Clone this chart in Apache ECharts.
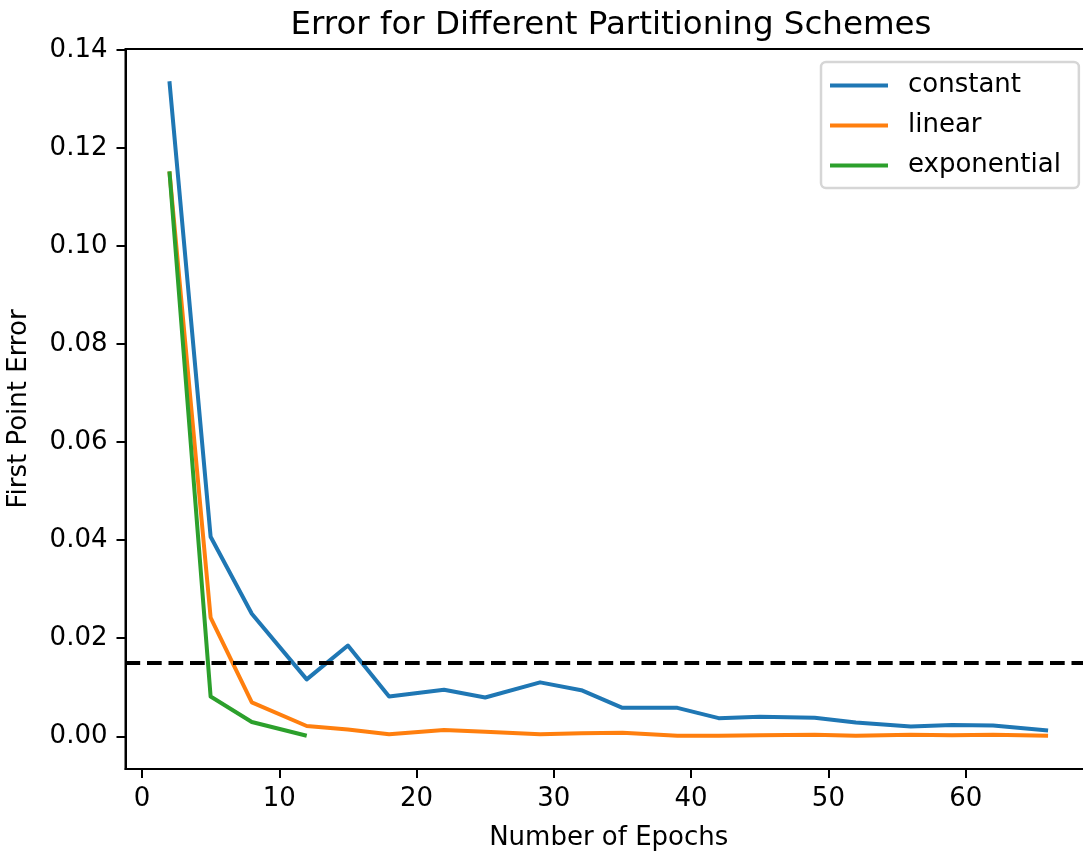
<!DOCTYPE html>
<html>
<head>
<meta charset="utf-8">
<title>Error for Different Partitioning Schemes</title>
<script src="https://cdn.jsdelivr.net/npm/echarts@6/dist/echarts.min.js"></script>
<style>
  html, body { margin: 0; padding: 0; background: #fff; overflow: hidden; }
  #chart { width: 1083px; height: 852px; }
</style>
</head>
<body>
<div id="chart"></div>
<script>
// Training epochs at which the first-point error was evaluated
const epochs = [2, 5, 8, 12, 15, 18, 22, 25, 29, 32, 35, 39, 42, 45, 49, 52, 56, 59, 62, 66];
const constantError = [0.1336, 0.0407, 0.0250, 0.0116, 0.0185, 0.0081, 0.0095, 0.0079, 0.0110, 0.0094,
                       0.0058, 0.0058, 0.0037, 0.0040, 0.0038, 0.0028, 0.0020, 0.0023, 0.0022, 0.0012];
const linearError = [0.1152, 0.0242, 0.0069, 0.0021, 0.0014, 0.0004, 0.0013, 0.0009, 0.0004, 0.0006,
                     0.0007, 0.0001, 0.0001, 0.0002, 0.0003, 0.0001, 0.0003, 0.0002, 0.0003, 0.0001];
const exponentialEpochs = [2, 5, 8, 12];
const exponentialError = [0.1152, 0.0081, 0.0029, 0.0001];
const threshold = 0.015;

const xTicks = [0, 10, 20, 30, 40, 50, 60];
const yTicks = [0, 0.02, 0.04, 0.06, 0.08, 0.10, 0.12, 0.14];
const seriesNames = ['constant', 'linear', 'exponential'];
const colors = ['#1f77b4', '#ff7f0e', '#2ca02c'];

const pairs = (xs, ys) => xs.map((x, i) => [x, ys[i]]);

const FONT = 'DejaVu Sans';
const chart = echarts.init(document.getElementById('chart'), null, { renderer: 'canvas' });

const lineSeries = (name, xs, ys, color) => ({
  name: name,
  type: 'line',
  data: pairs(xs, ys),
  showSymbol: false,
  symbol: 'none',
  color: color,
  lineStyle: { color: color, width: 4, cap: 'butt', join: 'round' },
  emphasis: { disabled: true },
  silent: true
});

// exponential is drawn last and carries the dashed threshold line
const expSeries = lineSeries(seriesNames[2], exponentialEpochs, exponentialError, colors[2]);
expSeries.markLine = {
  silent: true,
  precision: 6,
  symbol: ['none', 'none'],
  label: { show: false },
  emphasis: { disabled: true },
  lineStyle: { color: '#000', width: 4, type: [14.7, 6.8], cap: 'butt' },
  data: [{ yAxis: threshold }]
};

chart.setOption({
  animation: false,
  backgroundColor: '#ffffff',
  title: {
    text: 'Error for Different Partitioning Schemes',
    left: 606,
    top: 4,
    textAlign: 'center',
    textStyle: { fontFamily: FONT, fontSize: 32.5, fontWeight: 'normal', color: '#000' }
  },
  grid: {
    left: 125.5,
    top: 49,
    right: -9,
    bottom: 83,
    outerBoundsMode: 'none',
    containLabel: false,
    show: true,
    borderColor: '#000',
    borderWidth: 2,
    backgroundColor: 'transparent'
  },
  legend: {
    data: seriesNames,
    orient: 'vertical',
    left: 821,
    top: 62,
    padding: [10, 18, 9, 9],
    itemWidth: 58,
    itemHeight: 4,
    itemGap: 13,
    icon: 'rect',
    borderColor: '#d6d6d6',
    borderWidth: 2.5,
    borderRadius: 5,
    backgroundColor: 'rgba(255,255,255,0.8)',
    textStyle: {
      fontFamily: FONT, fontSize: 26, color: '#000',
      lineHeight: 27, padding: [0, 0, 0, 15]
    }
  },
  xAxis: {
    type: 'value',
    min: -1.2,
    max: 69.2,
    name: 'Number of Epochs',
    nameLocation: 'middle',
    nameGap: 56,
    nameTextStyle: { fontFamily: FONT, fontSize: 26, color: '#000' },
    axisLine: { show: true, onZero: false, lineStyle: { color: '#000', width: 2 } },
    axisTick: { show: true, length: 9, lineStyle: { color: '#000', width: 2 }, customValues: xTicks },
    axisLabel: { fontFamily: FONT, fontSize: 26, color: '#000', margin: 17, customValues: xTicks },
    splitLine: { show: false }
  },
  yAxis: {
    type: 'value',
    min: -0.006675,
    max: 0.140175,
    name: 'First Point Error',
    nameLocation: 'middle',
    nameGap: 93,
    nameRotate: 90,
    nameTextStyle: { fontFamily: FONT, fontSize: 26, color: '#000' },
    axisLine: { show: true, onZero: false, lineStyle: { color: '#000', width: 2 } },
    axisTick: { show: true, length: 9, lineStyle: { color: '#000', width: 2 }, customValues: yTicks },
    axisLabel: {
      fontFamily: FONT, fontSize: 26, color: '#000', margin: 18, customValues: yTicks,
      formatter: (v) => v.toFixed(2)
    },
    splitLine: { show: false }
  },
  series: [
    lineSeries(seriesNames[0], epochs, constantError, colors[0]),
    lineSeries(seriesNames[1], epochs, linearError, colors[1]),
    expSeries
  ]
});
</script>
</body>
</html>
